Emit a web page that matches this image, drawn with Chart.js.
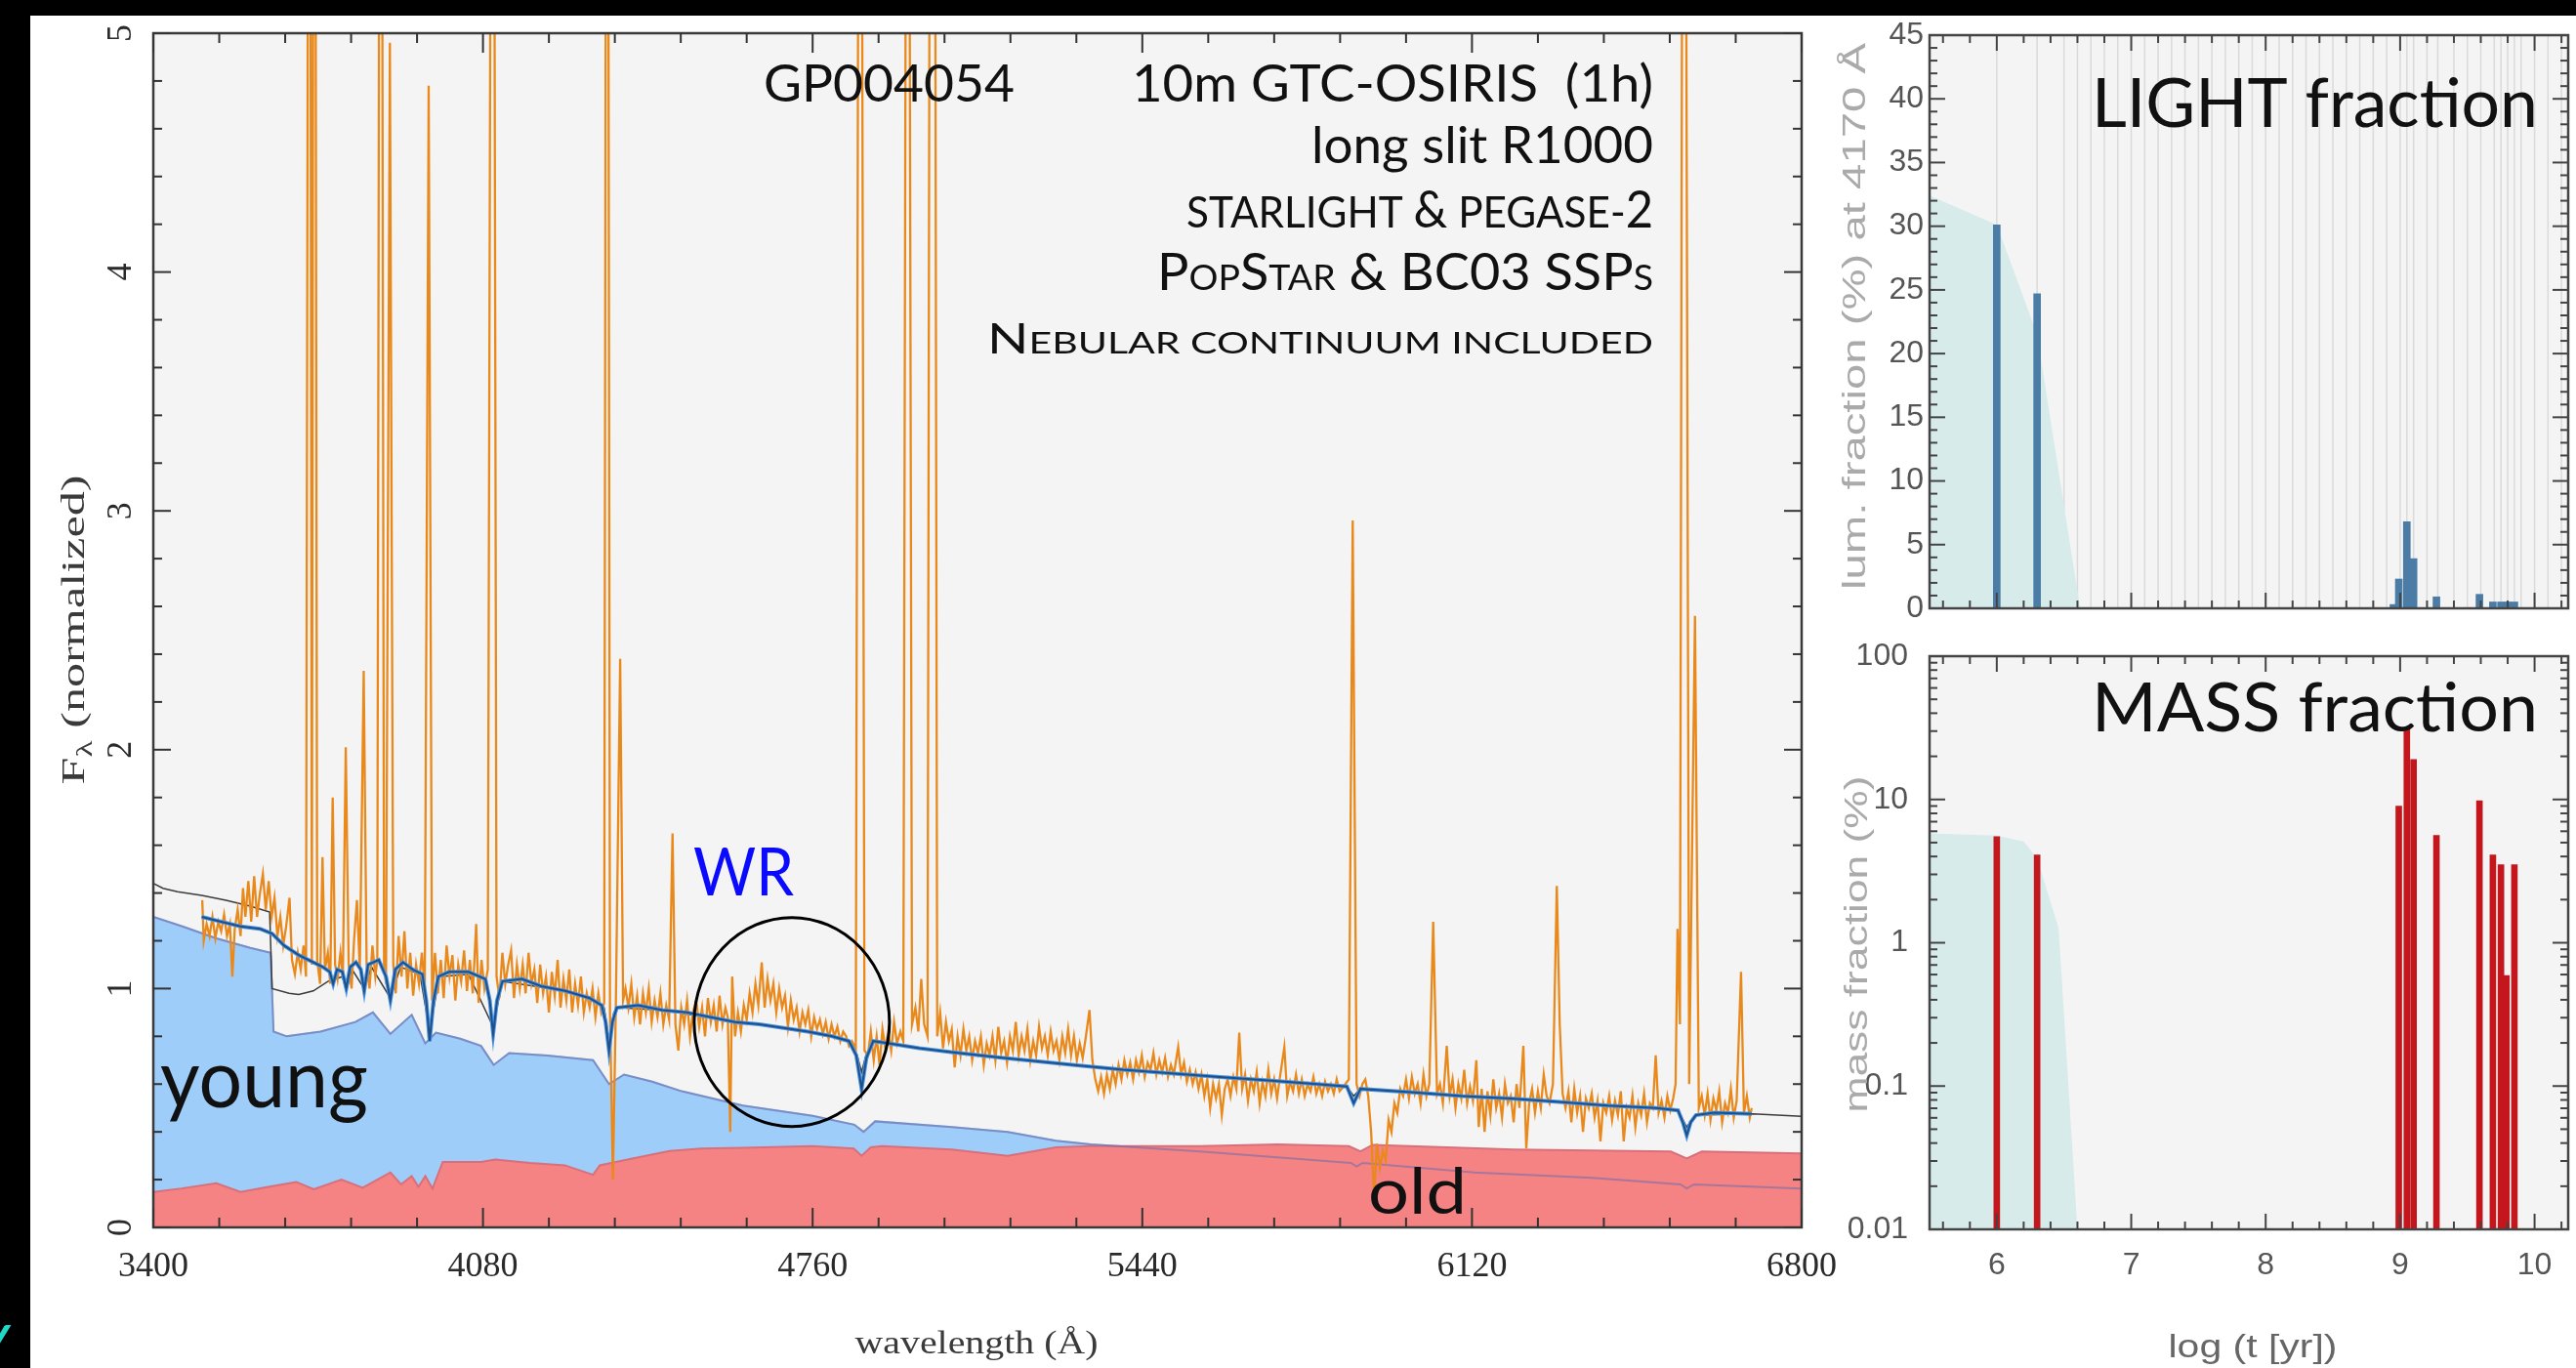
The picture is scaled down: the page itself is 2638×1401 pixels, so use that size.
<!DOCTYPE html>
<html><head><meta charset="utf-8">
<script src="https://cdn.jsdelivr.net/npm/chart.js@4.4.1/dist/chart.umd.min.js"></script>
<style>
html,body{margin:0;padding:0;background:#000;overflow:hidden;}
body{width:2638px;height:1401px;position:relative;}
#paper{position:absolute;left:31px;top:16px;width:2607px;height:1385px;background:#fff;}
canvas{position:absolute;left:0;top:0;pointer-events:none;}
</style></head><body>
<div id="paper"></div>
<canvas id="main" width="2638" height="1401"></canvas>
<canvas id="light" width="2638" height="1401"></canvas>
<canvas id="mass" width="2638" height="1401"></canvas>
<script>
// ---------------- DATA ----------------
const xMajorTicks = [3400, 4080, 4760, 5440, 6120, 6800];
const yMajorTicks = [0, 1, 2, 3, 4, 5];

// observed spectrum [wavelength, flux]
const obsSpectrum = [
[3501,1.37],[3504,1.20],[3510,1.27],[3516,1.22],[3522,1.30],[3528,1.21],[3534,1.28],[3540,1.24],[3546,1.31],[3552,1.22],
[3558,1.27],[3563,1.05],[3568,1.25],[3574,1.33],[3580,1.22],[3585,1.42],[3590,1.30],[3596,1.45],[3602,1.28],[3608,1.47],
[3614,1.30],[3620,1.40],[3626,1.48],[3632,1.33],[3638,1.45],[3644,1.30],[3650,1.38],[3656,1.22],[3662,1.30],[3668,1.18],
[3674,1.26],[3681,1.38],[3686,1.12],[3692,1.06],[3698,1.15],[3704,1.08],[3710,1.18],[3715,1.05],[3722,9],[3727,1.10],
[3732,9],[3738,1.12],[3744,1.02],[3749,1.55],[3754,1.08],[3760,1.15],[3765,1.02],[3770,1.80],[3775,1.10],[3780,1.04],
[3786,1.15],[3791,1.05],[3797,2.01],[3803,1.10],[3809,1.00],[3814,1.20],[3820,1.37],[3826,1.08],[3834,2.33],[3840,1.10],
[3846,1.00],[3852,1.18],[3858,1.05],[3862,1.12],[3869,9],[3876,1.10],[3880,1.02],[3888,4.96],[3895,1.10],[3900,0.98],
[3906,1.22],[3912,1.05],[3918,1.24],[3924,1.00],[3930,1.15],[3936,0.97],[3942,1.10],[3948,1.02],[3954,1.15],[3960,1.00],
[3968,4.78],[3975,0.95],[3981,1.15],[3987,0.98],[3993,1.12],[3999,0.96],[4005,1.18],[4011,1.05],[4017,1.14],[4023,0.95],
[4029,1.10],[4035,1.03],[4041,1.16],[4047,0.99],[4053,1.12],[4059,0.98],[4066,1.27],[4071,0.94],[4077,1.12],[4083,1.00],
[4090,1.08],[4100,9],[4108,1.05],[4114,0.96],[4120,1.15],[4126,1.02],[4132,1.10],[4138,1.16],[4144,0.96],[4150,1.10],
[4156,1.00],[4162,1.10],[4168,0.98],[4174,1.15],[4180,1.02],[4186,1.08],[4192,0.94],[4198,1.10],[4204,0.98],[4210,1.05],
[4216,0.90],[4222,1.07],[4228,0.97],[4234,1.12],[4240,0.92],[4246,1.04],[4252,0.95],[4258,1.08],[4264,0.90],[4270,1.02],
[4276,0.93],[4282,1.05],[4288,0.90],[4294,0.98],[4300,0.92],[4306,1.00],[4312,0.88],[4318,0.98],[4324,0.90],[4330,0.94],
[4336,9],[4342,0.90],[4348,0.20],[4354,0.92],[4363,2.38],[4369,0.95],[4374,1.00],[4380,0.92],[4386,1.02],[4392,0.88],
[4398,0.97],[4404,0.85],[4410,0.98],[4416,0.90],[4422,1.00],[4428,0.86],[4434,0.95],[4440,0.88],[4446,0.98],[4452,0.85],
[4458,0.93],[4464,0.87],[4471,1.65],[4477,0.85],[4483,0.74],[4489,0.92],[4495,0.85],[4501,0.95],[4507,0.80],[4513,0.90],
[4520,0.95],[4526,0.84],[4532,0.92],[4538,0.80],[4544,0.96],[4550,0.86],[4556,0.93],[4562,0.82],[4568,0.97],[4574,0.85],
[4580,0.92],[4585,0.88],[4590,0.40],[4594,1.05],[4600,0.80],[4606,0.90],[4612,0.82],[4618,0.93],[4624,0.87],[4630,0.98],
[4636,0.90],[4642,1.02],[4648,0.93],[4655,1.11],[4661,0.92],[4667,1.04],[4673,0.95],[4679,1.02],[4685,0.90],[4691,1.00],
[4697,0.92],[4703,0.97],[4709,0.84],[4715,0.95],[4721,0.87],[4727,0.92],[4733,0.82],[4739,0.90],[4745,0.85],[4751,0.91],
[4757,0.80],[4763,0.88],[4769,0.83],[4775,0.87],[4781,0.81],[4787,0.86],[4793,0.79],[4799,0.85],[4805,0.80],[4811,0.84],
[4817,0.78],[4823,0.82],[4829,0.80],[4835,0.76],[4841,0.78],[4849,0.75],[4858,9],[4867,0.74],[4874,0.72],[4880,0.82],
[4886,0.70],[4892,0.80],[4898,0.68],[4904,0.83],[4910,0.75],[4916,0.82],[4922,0.74],[4928,0.86],[4934,0.77],[4941,0.82],
[4947,0.78],[4956,9],[4965,0.85],[4972,0.92],[4978,0.82],[4984,1.04],[4990,0.85],[4997,0.80],[5007,12],[5017,0.80],
[5023,0.90],[5029,0.75],[5035,0.86],[5041,0.78],[5047,0.83],[5053,0.67],[5059,0.80],[5065,0.72],[5071,0.83],[5077,0.74],
[5083,0.80],[5089,0.70],[5095,0.78],[5101,0.73],[5107,0.80],[5113,0.68],[5119,0.77],[5125,0.72],[5131,0.80],[5137,0.70],
[5143,0.84],[5149,0.73],[5155,0.78],[5161,0.69],[5167,0.80],[5173,0.74],[5179,0.86],[5185,0.72],[5191,0.80],[5197,0.74],
[5203,0.83],[5209,0.70],[5215,0.78],[5221,0.72],[5227,0.84],[5233,0.75],[5239,0.80],[5245,0.72],[5251,0.82],[5257,0.74],
[5263,0.78],[5269,0.70],[5275,0.80],[5281,0.73],[5287,0.83],[5293,0.72],[5299,0.80],[5305,0.70],[5311,0.77],[5317,0.71],
[5323,0.79],[5331,0.91],[5337,0.70],[5343,0.62],[5349,0.57],[5355,0.63],[5361,0.56],[5367,0.64],[5373,0.58],[5379,0.66],
[5385,0.60],[5391,0.68],[5397,0.62],[5403,0.70],[5409,0.64],[5415,0.69],[5421,0.62],[5427,0.70],[5433,0.65],[5439,0.72],
[5445,0.63],[5451,0.69],[5457,0.66],[5463,0.73],[5469,0.64],[5475,0.70],[5481,0.65],[5487,0.71],[5493,0.63],[5499,0.68],
[5505,0.64],[5514,0.755],[5520,0.64],[5526,0.69],[5532,0.61],[5538,0.66],[5544,0.60],[5550,0.65],[5556,0.58],[5562,0.64],
[5568,0.55],[5574,0.62],[5580,0.50],[5586,0.60],[5592,0.54],[5598,0.60],[5604,0.47],[5610,0.58],[5616,0.62],[5622,0.55],
[5628,0.63],[5634,0.58],[5640,0.815],[5646,0.58],[5652,0.64],[5658,0.53],[5664,0.62],[5670,0.57],[5676,0.65],[5682,0.52],
[5688,0.61],[5694,0.55],[5700,0.66],[5706,0.56],[5712,0.62],[5718,0.54],[5724,0.63],[5733,0.755],[5739,0.55],[5745,0.61],
[5751,0.57],[5757,0.64],[5763,0.56],[5769,0.62],[5775,0.55],[5781,0.60],[5787,0.57],[5793,0.63],[5799,0.56],[5805,0.60],
[5811,0.55],[5817,0.61],[5823,0.57],[5829,0.60],[5835,0.56],[5841,0.62],[5847,0.57],[5855,0.59],[5866,0.62],[5874,2.96],
[5882,0.60],[5888,0.55],[5894,0.60],[5900,0.62],[5906,0.55],[5912,0.40],[5918,0.13],[5924,0.35],[5930,0.25],[5936,0.32],
[5942,0.28],[5948,0.45],[5954,0.40],[5960,0.52],[5966,0.48],[5972,0.58],[5978,0.55],[5984,0.62],[5990,0.54],[5996,0.63],
[6002,0.56],[6008,0.60],[6014,0.52],[6020,0.64],[6026,0.55],[6032,0.60],[6040,1.28],[6048,0.56],[6054,0.60],[6060,0.52],
[6068,0.76],[6074,0.55],[6080,0.62],[6086,0.50],[6092,0.60],[6098,0.54],[6104,0.66],[6110,0.52],[6116,0.59],[6122,0.53],
[6129,0.70],[6134,0.42],[6140,0.58],[6146,0.40],[6152,0.57],[6158,0.47],[6164,0.62],[6170,0.50],[6176,0.56],[6182,0.46],
[6188,0.60],[6194,0.52],[6200,0.55],[6206,0.44],[6212,0.60],[6218,0.50],[6226,0.76],[6232,0.33],[6238,0.52],[6244,0.58],
[6250,0.48],[6256,0.57],[6262,0.50],[6268,0.64],[6274,0.55],[6280,0.52],[6287,0.60],[6295,1.43],[6301,0.85],[6307,0.56],
[6313,0.50],[6319,0.57],[6325,0.44],[6331,0.58],[6337,0.48],[6343,0.55],[6349,0.40],[6355,0.54],[6361,0.50],[6367,0.56],
[6373,0.46],[6379,0.53],[6385,0.36],[6391,0.52],[6397,0.48],[6403,0.55],[6409,0.45],[6415,0.53],[6421,0.47],[6427,0.57],
[6433,0.36],[6439,0.50],[6445,0.46],[6451,0.55],[6457,0.42],[6463,0.52],[6469,0.47],[6475,0.56],[6481,0.44],[6487,0.52],
[6493,0.50],[6499,0.72],[6505,0.48],[6511,0.53],[6517,0.46],[6523,0.55],[6529,0.49],[6535,0.54],[6540,0.60],[6544,1.25],
[6549,0.85],[6557,9],[6568,0.60],[6580,2.56],[6588,0.50],[6594,0.55],[6600,0.47],[6606,0.56],[6612,0.45],[6618,0.54],
[6624,0.49],[6630,0.57],[6636,0.44],[6642,0.52],[6648,0.48],[6654,0.58],[6660,0.46],[6666,0.53],[6675,1.07],[6681,0.48],
[6687,0.55],[6693,0.46],[6697,0.50]
];

// fitted synthetic spectrum
const fitLine = [
[3500,1.30],[3540,1.28],[3580,1.26],[3620,1.25],[3645,1.23],[3670,1.18],[3700,1.14],[3730,1.11],[3750,1.09],[3764,1.07],
[3771,1.02],[3779,1.08],[3790,1.07],[3798,1.00],[3806,1.09],[3818,1.11],[3828,1.08],[3835,0.99],[3843,1.10],[3865,1.12],
[3880,1.05],[3889,0.95],[3899,1.08],[3915,1.11],[3935,1.08],[3955,1.06],[3963,0.95],[3970,0.78],[3978,0.95],[3988,1.05],
[4010,1.07],[4050,1.07],[4085,1.04],[4094,0.95],[4101,0.81],[4109,0.95],[4120,1.03],[4160,1.04],[4200,1.01],[4250,0.99],
[4300,0.96],[4325,0.93],[4333,0.86],[4340,0.74],[4347,0.86],[4356,0.92],[4400,0.93],[4450,0.91],[4500,0.90],[4550,0.88],
[4600,0.86],[4650,0.85],[4700,0.835],[4750,0.82],[4800,0.80],[4835,0.78],[4850,0.72],[4861,0.58],[4871,0.71],[4885,0.78],
[4920,0.77],[4980,0.75],[5050,0.733],[5150,0.71],[5200,0.70],[5300,0.68],[5400,0.66],[5500,0.645],[5600,0.63],[5700,0.615],
[5800,0.60],[5862,0.59],[5876,0.52],[5890,0.58],[6000,0.565],[6100,0.55],[6200,0.54],[6300,0.525],[6400,0.51],[6500,0.50],
[6545,0.49],[6555,0.44],[6563,0.385],[6571,0.44],[6582,0.47],[6620,0.48],[6697,0.475]
];

// total model (thin dark line)
const modelLine = [
[3400,1.44],[3420,1.42],[3450,1.405],[3500,1.39],[3550,1.37],[3600,1.345],[3640,1.32],[3645,1.00],[3680,0.98],[3700,0.975],
[3730,0.99],[3760,1.03],[3790,1.05],[3798,0.99],[3810,1.08],[3835,1.00],[3850,1.09],[3889,0.96],[3910,1.09],[3950,1.06],
[3970,0.82],[3990,1.05],[4050,1.06],[4101,0.84],[4120,1.03],[4250,0.99],[4300,0.96],[4330,0.92],[4340,0.78],[4350,0.90],
[4360,0.92],[4450,0.91],[4600,0.86],[4650,0.85],[4700,0.835],[4750,0.82],[4800,0.80],[4840,0.775],[4852,0.72],[4861,0.65],
[4870,0.72],[4885,0.78],[4920,0.77],[5000,0.745],[5200,0.70],[5400,0.66],[5600,0.63],[5800,0.60],[5862,0.59],[5876,0.55],
[5890,0.58],[6000,0.565],[6300,0.525],[6545,0.49],[6563,0.42],[6580,0.47],[6700,0.475],[6800,0.465]
];

// young population contribution
const youngComp = [
[3400,1.30],[3460,1.26],[3530,1.21],[3600,1.17],[3642,1.15],[3648,0.82],[3675,0.80],[3745,0.82],[3817,0.86],[3853,0.90],
[3889,0.81],[3933,0.89],[3961,0.77],[3983,0.815],[4033,0.79],[4076,0.76],[4102,0.68],[4134,0.73],[4213,0.72],[4307,0.70],
[4340,0.60],[4371,0.64],[4429,0.61],[4490,0.57],[4616,0.51],[4760,0.467],[4846,0.43],[4865,0.40],[4889,0.444],[5047,0.42],
[5162,0.40],[5262,0.363],[5334,0.348],[5559,0.318],[5870,0.27],[5882,0.255],[5895,0.27],[6125,0.23],[6368,0.207],[6550,0.18],
[6563,0.163],[6578,0.18],[6800,0.163]
];

// old population contribution
const oldComp = [
[3400,0.148],[3458,0.163],[3530,0.185],[3580,0.148],[3637,0.17],[3695,0.19],[3731,0.16],[3788,0.20],[3832,0.166],[3889,0.23],
[3911,0.18],[3933,0.215],[3947,0.17],[3961,0.215],[3976,0.163],[3997,0.274],[4076,0.274],[4105,0.284],[4177,0.27],[4249,0.26],
[4307,0.22],[4321,0.26],[4393,0.29],[4465,0.32],[4530,0.33],[4616,0.333],[4760,0.34],[4845,0.33],[4861,0.30],[4880,0.335],
[4903,0.34],[5047,0.326],[5162,0.30],[5262,0.335],[5334,0.34],[5559,0.34],[5720,0.348],[5866,0.34],[5890,0.318],[5915,0.345],
[6206,0.326],[6530,0.318],[6563,0.289],[6594,0.318],[6800,0.31]
];

// population synthesis panels
const sspGrid = [6.0,6.3,6.5,6.6,6.7,6.8,6.9,7.0,7.1,7.2,7.3,7.4,7.5,7.6,7.7,7.8,7.9,8.0,8.1,8.2,8.3,8.4,8.5,8.6,8.7,8.8,8.9,9.0,9.05,9.1,9.2,9.28,9.4,9.5,9.6,9.7,9.75,9.8,9.85,9.9,10.0,10.1,10.2];
const ageTicks = [6, 7, 8, 9, 10];
const lightYTicks = [0,5,10,15,20,25,30,35,40,45];
const massYTicks = [0.01, 0.1, 1, 10, 100];
const massYLabels = ['0.01','0.1','1','10','100'];

const lightAge  = [6.0, 6.3, 8.95, 8.99, 9.05, 9.1, 9.27, 9.59, 9.69, 9.75, 9.8, 9.85];
const lightFrac = [30.1, 24.7, 0.3, 2.3, 6.8, 3.9, 0.9, 1.1, 0.5, 0.5, 0.5, 0.5];
const lightEnvAge = [5.5, 6.0, 6.3, 6.62];
const lightEnv    = [32.4, 30.1, 21.5, 0];

const massAge  = [6.0, 6.3, 8.99, 9.05, 9.1, 9.27, 9.59, 9.69, 9.75, 9.79, 9.85];
const massFrac = [5.5, 4.1, 9.0, 32, 19, 5.6, 9.8, 4.1, 3.5, 0.59, 3.5];
const massEnvAge = [5.5, 6.0, 6.2, 6.3, 6.46, 6.6];
const massEnv    = [5.8, 5.6, 5.1, 3.9, 1.26, 0.01];

// ---------------- HELPERS ----------------
const xy = arr => arr.map(p => ({x: p[0], y: p[1]}));
const zipXY = (a, b) => a.map((v, i) => ({x: v, y: b[i]}));
const SANS = "'Lato','Open Sans',sans-serif";
const SERIF = "'Liberation Serif','DejaVu Serif',serif";
const HELV = "'Liberation Sans','Arial',sans-serif";

function seg(ctx, x1, y1, x2, y2) { ctx.beginPath(); ctx.moveTo(x1, y1); ctx.lineTo(x2, y2); ctx.stroke(); }

// draw text parts stretched to a target width
function fitText(ctx, parts, x, baseline, width, align, color) {
  let w = 0;
  parts.forEach(p => { ctx.font = p.f; p.w = ctx.measureText(p.t).width; w += p.w; });
  const s = width / w;
  ctx.save();
  const x0 = align === 'right' ? x - width : (align === 'center' ? x - width / 2 : x);
  ctx.translate(x0, baseline); ctx.scale(s, 1);
  ctx.fillStyle = color || '#111'; ctx.textAlign = 'left'; ctx.textBaseline = 'alphabetic';
  let cx = 0;
  parts.forEach(p => { ctx.font = p.f; ctx.fillText(p.t, cx, p.dy || 0); cx += p.w; });
  ctx.restore();
}
function rotText(ctx, parts, cx, cy, width, color) {
  ctx.save(); ctx.translate(cx, cy); ctx.rotate(-Math.PI / 2);
  fitText(ctx, parts, 0, 0, width, 'center', color);
  ctx.restore();
}

// ---------------- MAIN SPECTRUM ----------------
const mainDeco = {
  id: 'mainDeco',
  beforeDraw(chart) {
    const {ctx, chartArea: a} = chart;
    ctx.save(); ctx.fillStyle = '#f4f4f4';
    ctx.fillRect(a.left, a.top, a.right - a.left, a.bottom - a.top); ctx.restore();
  },
  afterDraw(chart) {
    const {ctx, chartArea: a, scales: {x, y}} = chart;
    ctx.save();
    ctx.strokeStyle = '#3a3a3a'; ctx.lineWidth = 2.5;
    ctx.strokeRect(a.left, a.top, a.right - a.left, a.bottom - a.top);
    ctx.lineWidth = 2; ctx.strokeStyle = '#333';
    for (let i = 0; i <= 25; i++) {
      const p = x.getPixelForValue(3400 + i * 136);
      const L = i % 5 === 0 ? 20 : 10;
      seg(ctx, p, a.bottom, p, a.bottom - L); seg(ctx, p, a.top, p, a.top + L);
    }
    for (let i = 0; i <= 25; i++) {
      const p = y.getPixelForValue(i * 0.2);
      const L = i % 5 === 0 ? 18 : 9;
      seg(ctx, a.left, p, a.left + L, p); seg(ctx, a.right, p, a.right - L, p);
    }
    // tick labels
    ctx.fillStyle = '#2a2a2a'; ctx.font = '36px ' + SERIF;
    ctx.textAlign = 'center'; ctx.textBaseline = 'middle';
    xMajorTicks.forEach(v => ctx.fillText(String(v), x.getPixelForValue(v), 1298));
    yMajorTicks.forEach(v => {
      ctx.save(); ctx.translate(125, y.getPixelForValue(v)); ctx.rotate(-Math.PI / 2);
      ctx.fillText(String(v), 0, 0); ctx.restore();
    });
    // axis titles
    fitText(ctx, [{t: 'wavelength (Å)', f: '34px ' + SERIF}], 1000, 1386, 249, 'center', '#3a3a3a');
    rotText(ctx, [{t: 'F', f: '34px ' + SERIF}, {t: 'λ', f: '24px ' + SERIF, dy: 8}, {t: ' (normalized)', f: '34px ' + SERIF}],
      86, 645, 317, '#3a3a3a');
    // annotations
    const B = n => n + 'px ' + SANS;
    fitText(ctx, [{t: 'GP004054', f: B(53)}], 782, 104, 257, 'left');
    fitText(ctx, [{t: '10m GTC-OSIRIS  (1h)', f: B(53)}], 1693, 104, 534, 'right');
    fitText(ctx, [{t: 'long slit R1000', f: B(52)}], 1693, 167, 350, 'right');
    fitText(ctx, [{t: 'STARLIGHT ', f: B(45)}, {t: '&', f: B(52)}, {t: ' PEGASE-', f: B(45)}, {t: '2', f: B(52)}], 1693, 233, 478, 'right');
    fitText(ctx, [{t: 'P', f: B(52)}, {t: 'OP', f: B(36)}, {t: 'S', f: B(52)}, {t: 'TAR', f: B(36)}, {t: ' & BC03 SSP', f: B(52)}, {t: 'S', f: B(36)}], 1693, 297, 508, 'right');
    fitText(ctx, [{t: 'N', f: B(42)}, {t: 'EBULAR CONTINUUM INCLUDED', f: B(31)}], 1693, 362, 682, 'right');
    fitText(ctx, [{t: 'WR', f: B(68)}], 710, 917, 103, 'left', '#0a0aff');
    fitText(ctx, [{t: 'young', f: B(84)}], 164, 1134, 213, 'left');
    fitText(ctx, [{t: 'old', f: B(66)}], 1401, 1243, 101, 'left');
    // circle around WR feature
    ctx.strokeStyle = '#000'; ctx.lineWidth = 3;
    ctx.beginPath(); ctx.ellipse(x.getPixelForValue(4717), y.getPixelForValue(0.86), 100, 107, 0, 0, Math.PI * 2); ctx.stroke();
    // slide fragment bottom-left
    ctx.fillStyle = '#1fd8c8'; ctx.font = '60px ' + SANS; ctx.textAlign = 'left'; ctx.textBaseline = 'alphabetic';
    ctx.fillText('Y', -26, 1400);
    ctx.restore();
  }
};

const lineDS = (data, color, width, order, extra) => Object.assign({
  type: 'line', data, borderColor: color, borderWidth: width, pointRadius: 0, tension: 0, fill: false, order
}, extra || {});

new Chart(document.getElementById('main'), {
  type: 'line',
  data: {datasets: [
    lineDS(xy(fitLine), '#1f4f86', 2, 0),
    lineDS(xy(fitLine), '#4a97e8', 4, 1),
    lineDS(xy(obsSpectrum), '#e9891c', 2.3, 2),
    lineDS(xy(modelLine), '#3c3c3c', 1.5, 3),
    lineDS(xy(youngComp), 'rgba(105,105,175,0.55)', 2, 4),
    lineDS(xy(oldComp), '#d8707c', 2, 5, {fill: 'origin', backgroundColor: '#f58383'}),
    lineDS(xy(youngComp), '#8cb8e4', 2, 6, {fill: 'origin', backgroundColor: '#9fcdfa'})
  ]},
  options: {
    responsive: false, animation: false, devicePixelRatio: 1,
    layout: {padding: {left: 157, top: 34, right: 2638 - 1845, bottom: 1401 - 1257}},
    plugins: {legend: {display: false}, tooltip: {enabled: false}},
    scales: {
      x: {type: 'linear', min: 3400, max: 6800, display: false},
      y: {type: 'linear', min: 0, max: 5, display: false}
    }
  },
  plugins: [mainDeco]
});

// ---------------- RIGHT PANELS ----------------
function panelTicksX(ctx, a, x, withLabels) {
  ctx.strokeStyle = '#444'; ctx.lineWidth = 2;
  for (let i = 0; i <= 23; i++) {
    const v = 5.6 + i * 0.2;
    const p = x.getPixelForValue(v);
    const major = Math.abs(v - Math.round(v)) < 1e-6;
    const L = major ? 16 : 8;
    seg(ctx, p, a.bottom, p, a.bottom - L); seg(ctx, p, a.top, p, a.top + L);
  }
  if (withLabels) {
    ctx.fillStyle = '#555'; ctx.font = '32px ' + HELV; ctx.textAlign = 'center'; ctx.textBaseline = 'middle';
    ageTicks.forEach(v => ctx.fillText(String(v), x.getPixelForValue(v), 1296));
  }
}
const lightDeco = {
  id: 'lightDeco',
  beforeDraw(chart) {
    const {ctx, chartArea: a, scales: {x}} = chart;
    ctx.save(); ctx.fillStyle = '#f4f4f4';
    ctx.fillRect(a.left, a.top, a.right - a.left, a.bottom - a.top);
    ctx.strokeStyle = '#dadada'; ctx.lineWidth = 1.5;
    sspGrid.forEach(v => { const p = x.getPixelForValue(v); seg(ctx, p, a.top, p, a.bottom); });
    ctx.restore();
  },
  afterDraw(chart) {
    const {ctx, chartArea: a, scales: {x, y}} = chart;
    ctx.save();
    ctx.strokeStyle = '#444'; ctx.lineWidth = 2.5;
    ctx.strokeRect(a.left, a.top, a.right - a.left, a.bottom - a.top);
    panelTicksX(ctx, a, x, false);
    for (let v = 0; v <= 45; v++) {
      const p = y.getPixelForValue(v); const L = v % 5 === 0 ? 16 : 8;
      seg(ctx, a.left, p, a.left + L, p); seg(ctx, a.right, p, a.right - L, p);
    }
    ctx.fillStyle = '#555'; ctx.font = '32px ' + HELV; ctx.textAlign = 'right'; ctx.textBaseline = 'middle';
    lightYTicks.forEach(v => ctx.fillText(String(v), 1970, y.getPixelForValue(v)));
    rotText(ctx, [{t: 'lum. fraction (%) at 4170 Å', f: '34px ' + HELV}], 1910, 324, 560, '#aaaaaa');
    fitText(ctx, [{t: 'LIGHT fraction', f: '70px ' + SANS}], 2142, 130, 457, 'left');
    ctx.restore();
  }
};
new Chart(document.getElementById('light'), {
  type: 'bar',
  data: {datasets: [
    {type: 'bar', data: zipXY(lightAge, lightFrac), backgroundColor: '#4b7ca5', barThickness: 7, order: 1},
    {type: 'line', data: zipXY(lightEnvAge, lightEnv), fill: 'origin', backgroundColor: '#d7ebeb', borderWidth: 0, pointRadius: 0, order: 2}
  ]},
  options: {
    responsive: false, animation: false, devicePixelRatio: 1,
    layout: {padding: {left: 1976, top: 36, right: 2638 - 2630, bottom: 1401 - 623}},
    plugins: {legend: {display: false}, tooltip: {enabled: false}},
    scales: {
      x: {type: 'linear', min: 5.5, max: 10.25, display: false, offset: false},
      y: {type: 'linear', min: 0, max: 45, display: false}
    }
  },
  plugins: [lightDeco]
});

const massDeco = {
  id: 'massDeco',
  beforeDraw(chart) {
    const {ctx, chartArea: a} = chart;
    ctx.save(); ctx.fillStyle = '#f4f4f4';
    ctx.fillRect(a.left, a.top, a.right - a.left, a.bottom - a.top); ctx.restore();
  },
  afterDraw(chart) {
    const {ctx, chartArea: a, scales: {x, y}} = chart;
    ctx.save();
    ctx.strokeStyle = '#444'; ctx.lineWidth = 2.5;
    ctx.strokeRect(a.left, a.top, a.right - a.left, a.bottom - a.top);
    panelTicksX(ctx, a, x, true);
    for (let e = -2; e <= 1; e++) for (let m = 1; m <= 9; m++) {
      const p = y.getPixelForValue(m * Math.pow(10, e)); const L = m === 1 ? 16 : 8;
      seg(ctx, a.left, p, a.left + L, p); seg(ctx, a.right, p, a.right - L, p);
    }
    ctx.fillStyle = '#555'; ctx.font = '32px ' + HELV; ctx.textAlign = 'right'; ctx.textBaseline = 'middle';
    massYTicks.forEach((v, i) => ctx.fillText(massYLabels[i], 1954, y.getPixelForValue(v)));
    rotText(ctx, [{t: 'mass fraction (%)', f: '34px ' + HELV}], 1912, 967, 345, '#aaaaaa');
    fitText(ctx, [{t: 'log (t [yr])', f: '33px ' + HELV}], 2307, 1390, 173, 'center', '#666');
    fitText(ctx, [{t: 'MASS fraction', f: '70px ' + SANS}], 2142, 749, 457, 'left');
    ctx.restore();
  }
};
new Chart(document.getElementById('mass'), {
  type: 'bar',
  data: {datasets: [
    {type: 'bar', data: zipXY(massAge, massFrac), backgroundColor: '#c3161d', barThickness: 6, order: 1},
    {type: 'line', data: zipXY(massEnvAge, massEnv), fill: 'start', backgroundColor: '#d7ebeb', borderWidth: 0, pointRadius: 0, order: 2}
  ]},
  options: {
    responsive: false, animation: false, devicePixelRatio: 1,
    layout: {padding: {left: 1976, top: 672, right: 2638 - 2630, bottom: 1401 - 1259}},
    plugins: {legend: {display: false}, tooltip: {enabled: false}},
    scales: {
      x: {type: 'linear', min: 5.5, max: 10.25, display: false, offset: false},
      y: {type: 'logarithmic', min: 0.01, max: 100, display: false}
    }
  },
  plugins: [massDeco]
});
</script>
</body></html>
